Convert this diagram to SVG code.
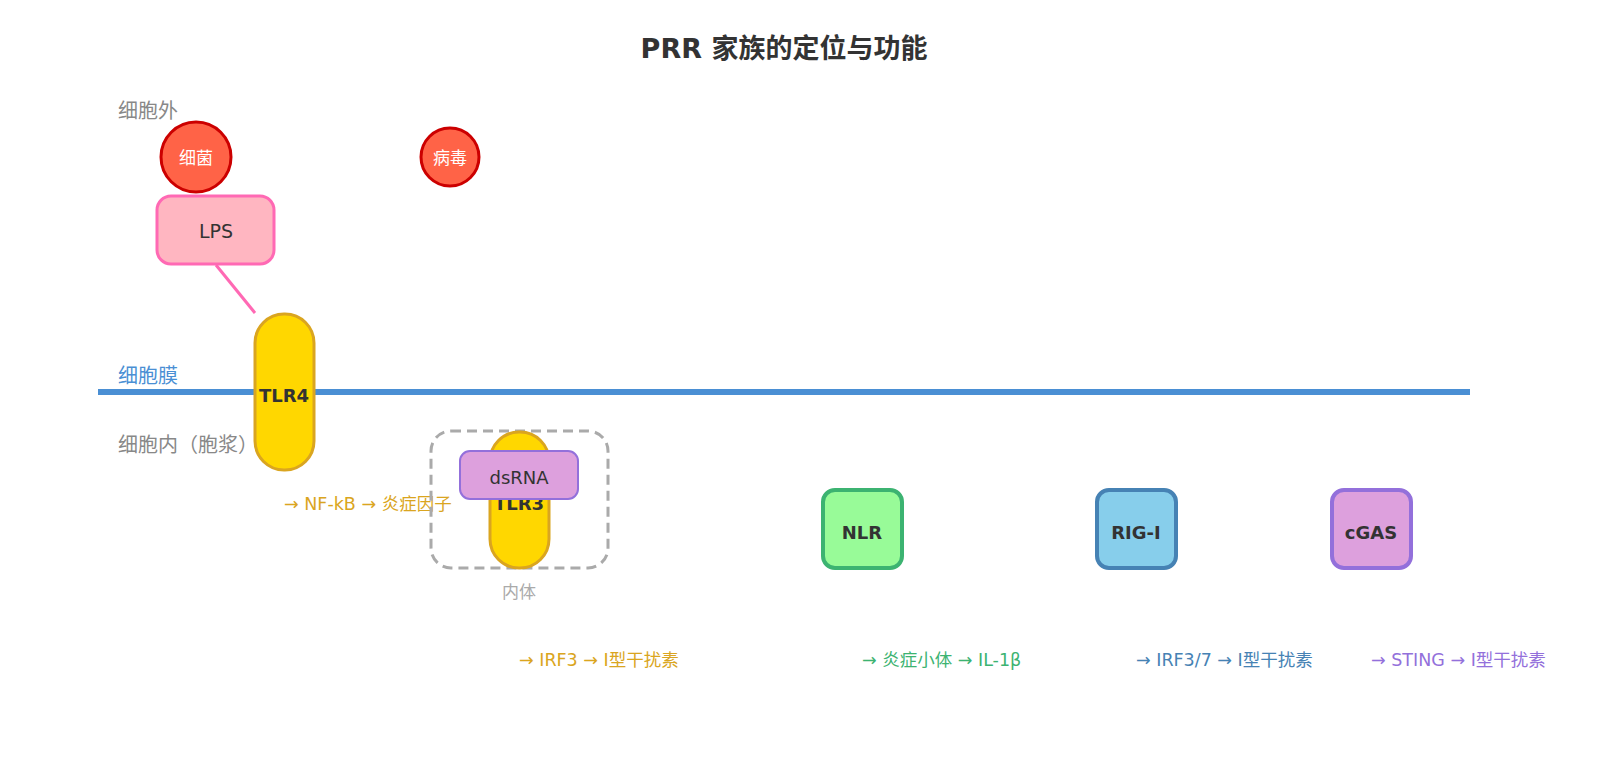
<svg xmlns="http://www.w3.org/2000/svg" width="1600" height="760" viewBox="0 0 1600 760">
<style>
text{font-family:"DejaVu Sans","Noto Sans CJK SC",sans-serif}
.zone{font-size:20px;fill:#888}
.bold{font-weight:bold;font-size:18px;fill:#333;text-anchor:middle}
.path{font-size:17.5px}
</style>
<rect width="1600" height="760" fill="#fff"/>
<text x="784" y="58" font-size="27" font-weight="bold" fill="#333" text-anchor="middle">PRR 家族的定位与功能</text>
<text class="zone" x="118" y="118">细胞外</text>
<text x="118" y="383" font-size="20" fill="#4a8fd4">细胞膜</text>
<text class="zone" x="118" y="452">细胞内（胞浆）</text>
<line x1="98" y1="392" x2="1470" y2="392" stroke="#4a8fd4" stroke-width="6"/>
<g id="connectors"><line x1="216" y1="265" x2="255" y2="313" stroke="#ff69b4" stroke-width="3"/></g>
<g id="bacteria"><circle cx="196" cy="157" r="35" fill="#ff6347" stroke="#cc0000" stroke-width="3"/><text x="196" y="164" font-size="17" fill="#fff" text-anchor="middle">细菌</text></g>
<g id="virus"><circle cx="450" cy="157" r="29" fill="#ff6347" stroke="#cc0000" stroke-width="3"/><text x="450" y="164" font-size="17" fill="#fff" text-anchor="middle">病毒</text></g>
<g id="lps"><rect x="157" y="196" width="117" height="68" rx="14" fill="#ffb6c1" stroke="#ff69b4" stroke-width="3"/><text x="216" y="238" font-size="19" fill="#333" text-anchor="middle">LPS</text></g>
<g id="tlr4"><rect x="255" y="314" width="59" height="156" rx="29" fill="#ffd700" stroke="#daa520" stroke-width="3"/><text class="bold" x="284" y="402">TLR4</text></g>
<text class="path" x="284" y="510" fill="#daa520">→ NF-kB → 炎症因子</text>
<g id="endosome"><rect x="431" y="431" width="177" height="137" rx="20" fill="none" stroke="#aaa" stroke-width="3" stroke-dasharray="10,6"/><text x="519" y="598" font-size="17" fill="#aaa" text-anchor="middle">内体</text></g>
<g id="tlr3"><rect x="490" y="432" width="59" height="136" rx="29" fill="#ffd700" stroke="#daa520" stroke-width="3"/><text class="bold" x="519" y="510">TLR3</text></g>
<g id="dsrna"><rect x="460" y="451" width="118" height="48" rx="10" fill="#dda0dd" stroke="#9370db" stroke-width="2"/><text x="519" y="484" font-size="18" fill="#333" text-anchor="middle">dsRNA</text></g>
<text class="path" x="519" y="666" fill="#daa520">→ IRF3 → I型干扰素</text>
<g id="nlr"><rect x="823" y="490" width="79" height="78" rx="12" fill="#98fb98" stroke="#3cb371" stroke-width="4"/><text class="bold" x="862" y="539">NLR</text></g>
<text class="path" x="862" y="666" fill="#3cb371">→ 炎症小体 → IL-1β</text>
<g id="rigi"><rect x="1097" y="490" width="79" height="78" rx="12" fill="#87ceeb" stroke="#4682b4" stroke-width="4"/><text class="bold" x="1136" y="539">RIG-I</text></g>
<text class="path" x="1136" y="666" fill="#4682b4">→ IRF3/7 → I型干扰素</text>
<g id="cgas"><rect x="1332" y="490" width="79" height="78" rx="12" fill="#dda0dd" stroke="#9370db" stroke-width="4"/><text class="bold" x="1371" y="539">cGAS</text></g>
<text class="path" x="1371" y="666" fill="#9370db">→ STING → I型干扰素</text>
</svg>
